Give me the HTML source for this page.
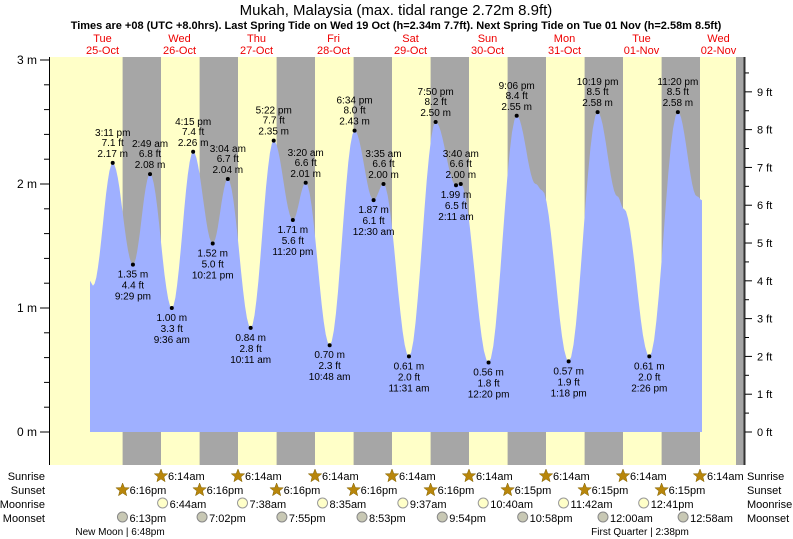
<!DOCTYPE html>
<html><head><meta charset="utf-8"><style>
body{margin:0;background:#fff;}
svg{display:block;font-family:"Liberation Sans",sans-serif;}
</style></head><body>
<svg id="s" width="793" height="539" xmlns="http://www.w3.org/2000/svg">
<text x="396" y="15" text-anchor="middle" font-size="15">Mukah, Malaysia (max. tidal range 2.72m 8.9ft)</text>
<text x="396" y="29" text-anchor="middle" font-size="11" font-weight="bold">Times are +08 (UTC +8.0hrs). Last Spring Tide on Wed 19 Oct (h=2.34m 7.7ft). Next Spring Tide on Tue 01 Nov (h=2.58m 8.5ft)</text>
</svg>
<script>
const s=document.getElementById('s'),NS='http://www.w3.org/2000/svg';
function el(t,a,txt){const e=document.createElementNS(NS,t);for(const k in a)e.setAttribute(k,a[k]);if(txt!=null)e.textContent=txt;s.appendChild(e);return e;}
const X=(d,h,m)=>141+77*((d-26)+(h+m/60)/24);
const Y=v=>432-124*v;
el('rect',{x:50,y:57,width:687,height:408,fill:'#ffffc8'});
for(let d=25;d<=32;d++){const a=X(d,18,16),b=X(d+1,6,14);el('rect',{x:a,y:57,width:b-a,height:408,fill:'#a6a6a6'});}
el('rect',{x:736,y:57,width:8,height:408,fill:'#a6a6a6'});
const ex=[[25,15,11,2.17],[25,21,29,1.35],[26,2,49,2.08],[26,9,36,1.00],[26,16,15,2.26],[26,22,21,1.52],[27,3,4,2.04],[27,10,11,0.84],[27,17,22,2.35],[27,23,20,1.71],[28,3,20,2.01],[28,10,48,0.70],[28,18,34,2.43],[29,0,30,1.87],[29,3,35,2.00],[29,11,31,0.61],[29,19,50,2.50],[30,2,11,1.99],[30,3,40,2.00],[30,12,20,0.56],[30,21,6,2.55],[31,13,18,0.57],[31,22,19,2.58],[32,14,26,0.61],[32,23,20,2.58]];
const ctrl=ex.map(e=>[X(e[0],e[1],e[2]),e[3]]);
const all=[[93,1.18],...ctrl.slice(0,21),[X(31,3,0),2.0],[X(31,5,0),1.95],...ctrl.slice(21,23),[X(32,4,30),1.9],[X(32,6,30),1.8],...ctrl.slice(23),[697,1.9],[702,1.87]];
let d='M90,432 L90,'+Y(1.22)+' ';
for(let i=0;i<all.length-1;i++){const [x0,v0]=all[i],[x1,v1]=all[i+1];for(let k=0;k<=12;k++){const t=k/12,v=v0+(v1-v0)*(1-Math.cos(Math.PI*t))/2;d+='L'+(x0+(x1-x0)*t).toFixed(1)+','+Y(v).toFixed(1)+' ';}}
d+='L702,432 Z';
el('path',{d,fill:'#9fb0ff'});
ex.forEach((e,i)=>{const x=X(e[0],e[1],e[2]),y=Y(e[3]);el('circle',{cx:x,cy:y,r:2,fill:'#000'});
const h=e[1],tm=(h%12==0?12:h%12)+':'+String(e[2]).padStart(2,'0')+(h<12?' am':' pm');const ft=(e[3]/0.3048).toFixed(1)+' ft',m=e[3].toFixed(2)+' m';
const isHi=[0,2,4,6,8,10,12,14,16,18,20,22,24].includes(i);
const L=isHi?[[tm,-27],[ft,-17],[m,-6]]:[[m,13],[ft,24],[tm,35]];
L.forEach(l=>el('text',{x:x,y:y+l[1],'text-anchor':'middle','font-size':10},l[0]));});
// axes
el('line',{x1:49.5,y1:57,x2:49.5,y2:465,stroke:'#000'});
el('line',{x1:744.5,y1:57,x2:744.5,y2:465,stroke:'#333','stroke-width':2});
for(let v=0;v<=3.001;v+=0.2){const maj=Math.abs(v-Math.round(v))<0.01;el('line',{x1:maj?40:44,y1:Y(v),x2:50,y2:Y(v),stroke:'#000'});}
[0,1,2,3].forEach(v=>el('text',{x:37,y:Y(v)+4,'text-anchor':'end','font-size':12},v+' m'));
for(let f=0;f<=9.5;f+=0.5){const y=Y(f*0.3048);const maj=f%1==0;el('line',{x1:745,y1:y,x2:maj?752:749,y2:y,stroke:'#000'});if(maj)el('text',{x:757,y:y+4,'font-size':11},f+' ft');}
const dn=['Tue','Wed','Thu','Fri','Sat','Sun','Mon','Tue','Wed'],dt=['25-Oct','26-Oct','27-Oct','28-Oct','29-Oct','30-Oct','31-Oct','01-Nov','02-Nov'];
dn.forEach((n,i)=>{const x=X(25+i,12,0);el('text',{x,y:42,'text-anchor':'middle','font-size':11,fill:'#e00'},n);el('text',{x,y:54,'text-anchor':'middle','font-size':11,fill:'#e00'},dt[i]);});
[['Sunrise',480],['Sunset',494],['Moonrise',508],['Moonset',522]].forEach(r=>{el('text',{x:45,y:r[1],'text-anchor':'end','font-size':11},r[0]);el('text',{x:747,y:r[1],'font-size':11},r[0]);});
function star(x,y){let p='';for(let k=0;k<10;k++){const r=k%2?3:7,a=-Math.PI/2+k*Math.PI/5;p+=(x+r*Math.cos(a)).toFixed(1)+','+(y+r*Math.sin(a)).toFixed(1)+' ';}el('polygon',{points:p,fill:'#b8860b',stroke:'#806000','stroke-width':0.5});}
for(let d2=26;d2<=33;d2++){const x=X(d2,6,14);star(x,476);el('text',{x:x+7,y:480,'font-size':11},'6:14am');}
for(let d2=25;d2<=32;d2++){const x=X(d2,18,16);star(x,490);el('text',{x:x+7,y:494,'font-size':11},d2<30?'6:16pm':'6:15pm');}
const mr=[[26,6,44,'6:44am'],[27,7,38,'7:38am'],[28,8,35,'8:35am'],[29,9,37,'9:37am'],[30,10,40,'10:40am'],[31,11,42,'11:42am'],[32,12,41,'12:41pm']];
mr.forEach(m=>{const x=X(m[0],m[1],m[2]);el('circle',{cx:x,cy:503,r:5,fill:'#ffffc8',stroke:'#999'});el('text',{x:x+7,y:508,'font-size':11},m[3]);});
const ms=[[25,18,13,'6:13pm'],[26,19,2,'7:02pm'],[27,19,55,'7:55pm'],[28,20,53,'8:53pm'],[29,21,54,'9:54pm'],[30,22,58,'10:58pm'],[32,0,0,'12:00am'],[33,0,58,'12:58am']];
ms.forEach(m=>{const x=X(m[0],m[1],m[2]);el('circle',{cx:x,cy:517,r:5,fill:'#c8c8b4',stroke:'#888'});el('text',{x:x+7,y:522,'font-size':11},m[3]);});
el('text',{x:120,y:535,'text-anchor':'middle','font-size':10},'New Moon | 6:48pm');
el('text',{x:640,y:535,'text-anchor':'middle','font-size':10},'First Quarter | 2:38pm');
</script>
</body></html>
